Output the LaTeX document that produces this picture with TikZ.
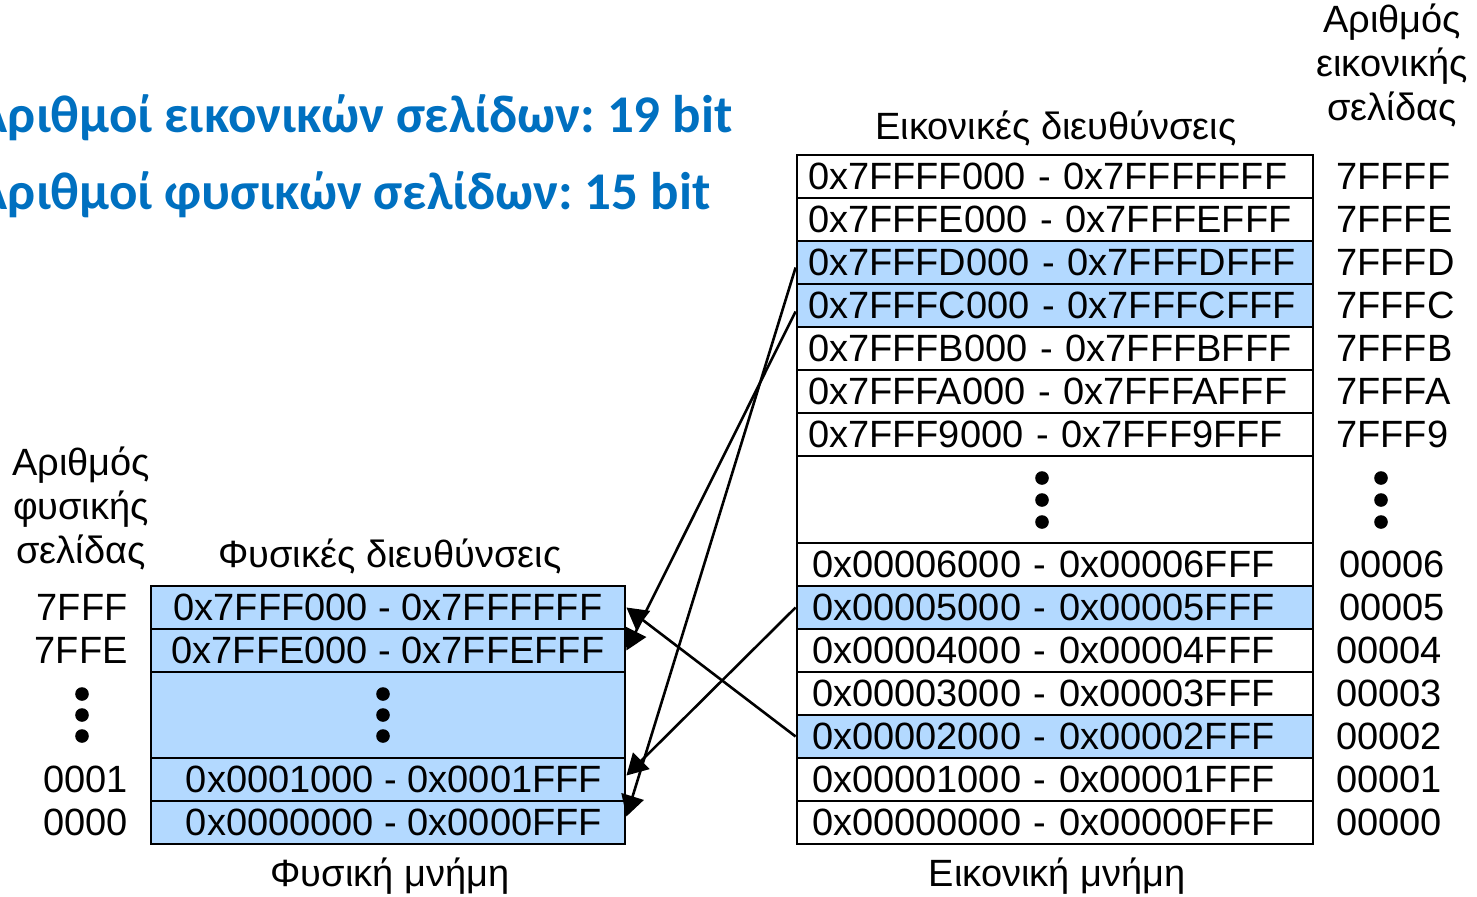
\documentclass[tikz,border=0pt]{standalone}
\usepackage{fontspec}
\setmainfont{Liberation Sans}
\newfontfamily\titlefont{Carlito}
\usetikzlibrary{arrows.meta}
\definecolor{memblue}{RGB}{179,217,255}
\definecolor{titleblue}{RGB}{0,112,192}
\frenchspacing
\begin{document}
% coordinates are in pixel-like units, y grows downwards
\begin{tikzpicture}[x=0.5pt,y=-0.5pt,
  lbl/.style={inner sep=0pt, font=\fontsize{19}{22}\selectfont},
  headline/.style={inner sep=0pt, text=titleblue, font=\titlefont\bfseries\fontsize{26.5}{30}\selectfont},
  vrow/.style={draw, line width=1.4pt, minimum height=21.5pt, text width=247pt,
    inner xsep=5.5pt, inner ysep=0pt, align=left, font=\fontsize{19}{22}\selectfont},
  prow/.style={draw, line width=1.4pt, fill=memblue, minimum height=21.5pt, minimum width=237pt,
    inner sep=0pt, font=\fontsize{19}{22}\selectfont},
  hl/.style={fill=memblue},
  ptr/.style={line width=1.3pt, -{Triangle[length=10.5pt,width=11.5pt]}},
  dot/.style={fill=black}
]
\useasboundingbox (0,0) rectangle (1477,896);

% headline text
\node[headline, anchor=east] (hv) at (733,118) {Αριθμοί εικονικών σελίδων: 19 bit};
\node[headline, anchor=east] (hp) at (711,195) {Αριθμοί φυσικών σελίδων: 15 bit};

% virtual memory
\node[lbl] (vtitle) at (1056,128) {Εικονικές διευθύνσεις};
\node[lbl, align=center] (vnum) at (1392,65) {Αριθμός\\εικονικής\\σελίδας};
\node[vrow] (v7FFFF) at (1055,176.5) {0x7FFFF000 - 0x7FFFFFFF};
\node[vrow] (v7FFFE) at (1055,219.5) {0x7FFFE000 - 0x7FFFEFFF};
\node[vrow,hl] (v7FFFD) at (1055,262.5) {0x7FFFD000 - 0x7FFFDFFF};
\node[vrow,hl] (v7FFFC) at (1055,305.5) {0x7FFFC000 - 0x7FFFCFFF};
\node[vrow] (v7FFFB) at (1055,348.5) {0x7FFFB000 - 0x7FFFBFFF};
\node[vrow] (v7FFFA) at (1055,391.5) {0x7FFFA000 - 0x7FFFAFFF};
\node[vrow] (v7FFF9) at (1055,434.5) {0x7FFF9000 - 0x7FFF9FFF};
\node[vrow, minimum height=43.5pt] (vgap) at (1055,499.5) {};
\node[vrow] (v00006) at (1055,564.5) {\hspace{2pt}0x00006000 - 0x00006FFF};
\node[vrow,hl] (v00005) at (1055,607.5) {\hspace{2pt}0x00005000 - 0x00005FFF};
\node[vrow] (v00004) at (1055,650.5) {\hspace{2pt}0x00004000 - 0x00004FFF};
\node[vrow] (v00003) at (1055,693.5) {\hspace{2pt}0x00003000 - 0x00003FFF};
\node[vrow,hl] (v00002) at (1055,736.5) {\hspace{2pt}0x00002000 - 0x00002FFF};
\node[vrow] (v00001) at (1055,779.5) {\hspace{2pt}0x00001000 - 0x00001FFF};
\node[vrow] (v00000) at (1055,822.5) {\hspace{2pt}0x00000000 - 0x00000FFF};
\node[lbl] (vmem) at (1057,876) {Εικονική μνήμη};

% virtual page numbers
\node[lbl, anchor=west] (n7FFFF) at (1336,176.5) {7FFFF};
\node[lbl, anchor=west] (n7FFFE) at (1336,219.5) {7FFFE};
\node[lbl, anchor=west] (n7FFFD) at (1336,262.5) {7FFFD};
\node[lbl, anchor=west] (n7FFFC) at (1336,305.5) {7FFFC};
\node[lbl, anchor=west] (n7FFFB) at (1336,348.5) {7FFFB};
\node[lbl, anchor=west] (n7FFFA) at (1336,391.5) {7FFFA};
\node[lbl, anchor=west] (n7FFF9) at (1336,434.5) {7FFF9};
\node[lbl, anchor=west] (n00006) at (1339,564.5) {00006};
\node[lbl, anchor=west] (n00005) at (1339,607.5) {00005};
\node[lbl, anchor=west] (n00004) at (1336,650.5) {00004};
\node[lbl, anchor=west] (n00003) at (1336,693.5) {00003};
\node[lbl, anchor=west] (n00002) at (1336,736.5) {00002};
\node[lbl, anchor=west] (n00001) at (1336,779.5) {00001};
\node[lbl, anchor=west] (n00000) at (1336,822.5) {00000};

% physical memory
\node[lbl] (ptitle) at (390,556) {Φυσικές διευθύνσεις};
\node[lbl, align=center] (pnum) at (81,508) {Αριθμός\\φυσικής\\σελίδας};
\node[prow] (p7FFF) at (388,607.5) {0x7FFF000 - 0x7FFFFFF};
\node[prow] (p7FFE) at (388,650.5) {0x7FFE000 - 0x7FFEFFF};
\node[prow, minimum height=43pt] (pgap) at (388,715) {};
\node[prow] (p0001) at (388,779.5) {\hspace{6pt}0x0001000 - 0x0001FFF};
\node[prow] (p0000) at (388,822.5) {\hspace{6pt}0x0000000 - 0x0000FFF};
\node[lbl] (pmem) at (390,876) {Φυσική μνήμη};

% physical page numbers
\node[lbl, anchor=east] (m7FFF) at (128,607.5) {7FFF};
\node[lbl, anchor=east] (m7FFE) at (128,650.5) {7FFE};
\node[lbl, anchor=east] (m0001) at (128,779.5) {0001};
\node[lbl, anchor=east] (m0000) at (128,822.5) {0000};

% vertical ellipses
\foreach \cx in {82,383}
  \foreach \cy in {694,715,736}
    \fill[dot] (\cx,\cy) circle[radius=3.4pt];
\foreach \cx in {1042,1381}
  \foreach \cy in {478,500,522}
    \fill[dot] (\cx,\cy) circle[radius=3.4pt];

% page mappings
\draw[ptr] ([yshift=-2.5pt]v7FFFD.west) -- ([yshift=3pt]p0000.east);
\draw[ptr] ([yshift=-3pt]v7FFFC.west) -- (p7FFE.east);
\draw[ptr] (v00005.west) -- ([yshift=2pt]p0001.east);
\draw[ptr] (v00002.west) -- (p7FFF.east);
\end{tikzpicture}
\end{document}
